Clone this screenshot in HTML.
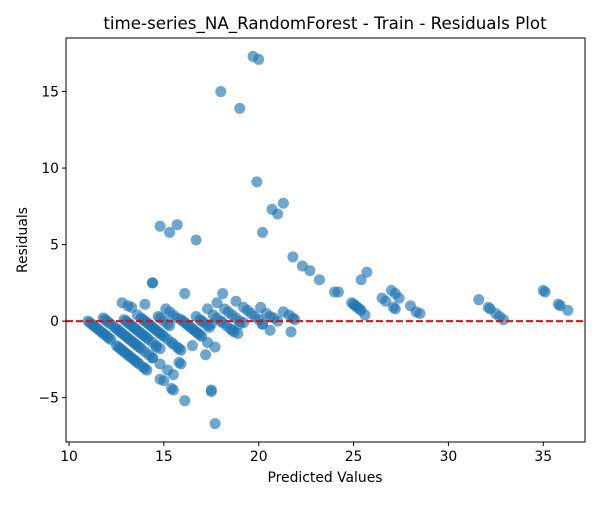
<!DOCTYPE html>
<html><head><meta charset="utf-8"><style>
body{margin:0;background:#fff;}
svg text{font-family:"DejaVu Sans","Liberation Sans",sans-serif;fill:#000;}
</style></head><body>
<svg id="chart" width="600" height="500" xmlns="http://www.w3.org/2000/svg">
<rect width="600" height="500" fill="#fff"/>
<text x="325" y="29" font-size="16.7" text-anchor="middle">time-series_NA_RandomForest - Train - Residuals Plot</text>
<g id="points"></g>
<line id="zero" stroke="#ff0000" stroke-width="2" stroke-dasharray="7,3"/>
<rect x="66" y="38" width="519" height="404" fill="none" stroke="#000" stroke-width="1"/>
<g id="xt"></g>
<g id="yt"></g>
<text x="325" y="482" font-size="13.9" text-anchor="middle">Predicted Values</text>
<text transform="translate(27,240) rotate(-90)" font-size="13.9" text-anchor="middle">Residuals</text>
</svg>
<script>
const xTicks=[10,15,20,25,30,35];
const yTicks=[-5,0,5,10,15];
const predicted=[11.0,11.1,11.2,11.3,11.4,11.5,11.6,11.7,11.8,11.9,12.0,12.1,12.2,
12.5,12.6,12.7,12.8,12.9,13.0,13.1,13.2,13.3,13.4,13.5,13.6,13.7,13.9,14.0,14.1,
11.8,11.9,12.0,12.1,12.2,12.4,12.5,12.6,12.7,12.8,12.9,13.0,13.1,13.2,13.3,13.4,13.5,13.6,13.7,13.8,14.0,14.2,14.4,
12.9,13.0,13.1,13.2,13.3,13.4,13.5,13.6,13.7,13.8,13.9,14.0,14.1,14.2,14.4,14.6,14.8,
13.6,13.8,13.9,14.0,14.1,14.2,14.3,14.4,14.5,14.6,14.7,14.8,14.9,15.0,15.2,15.4,15.5,15.7,15.8,15.9,
14.7,14.8,15.0,15.2,15.3,15.1,15.3,15.5,15.7,15.9,16.0,16.1,16.2,16.3,16.4,16.5,16.6,16.7,16.8,16.9,17.0,
16.7,16.9,17.0,17.1,17.3,17.5,
17.3,17.6,17.8,18.0,18.1,18.3,18.5,18.6,
18.2,18.4,18.6,18.8,19.0,19.2,
18.8,19.2,19.4,19.6,19.8,20.0,20.2,
20.1,20.4,20.6,20.8,21.0,
21.3,21.6,21.8,21.9,
12.8,13.1,13.3,14.0,16.1,17.8,18.1,
14.4,14.4,14.8,15.3,15.7,16.7,18.0,19.0,19.7,20.0,19.9,20.7,21.0,21.3,20.2,21.8,22.3,22.7,23.2,24.0,24.2,25.4,25.7,
24.9,25.0,25.1,25.2,25.3,25.4,25.6,26.5,26.7,27.0,27.2,27.4,27.1,27.2,28.0,28.3,28.5,31.6,32.1,32.2,32.5,32.7,32.9,35.0,35.1,35.8,35.9,36.3,
14.4,14.8,14.8,15.0,15.2,15.5,15.4,15.5,15.8,15.9,16.1,16.5,17.2,17.5,17.5,17.7,17.7,14.6,21.7,20.6,19.0,18.9,18.7,17.3,17.4,20.2];
const residuals=[0.0,-0.1,-0.2,-0.3,-0.4,-0.5,-0.6,-0.7,-0.8,-0.9,-1.0,-1.1,-1.2,
-1.6,-1.7,-1.8,-1.9,-2.0,-2.1,-2.2,-2.3,-2.4,-2.5,-2.6,-2.7,-2.8,-3.0,-3.1,-3.2,
0.2,0.1,0.0,-0.1,-0.2,-0.4,-0.5,-0.6,-0.7,-0.8,-0.9,-1.0,-1.1,-1.2,-1.3,-1.4,-1.5,-1.6,-1.7,-1.8,-2.0,-2.2,-2.4,
0.1,0.0,-0.1,-0.2,-0.3,-0.4,-0.5,-0.6,-0.7,-0.8,-0.9,-1.0,-1.1,-1.2,-1.4,-1.6,-1.8,
0.4,0.2,0.1,0.0,-0.1,-0.2,-0.3,-0.4,-0.5,-0.6,-0.7,-0.8,-0.9,-1.0,-1.2,-1.4,-1.5,-1.7,-1.8,-1.9,
0.3,0.2,0.0,-0.2,-0.3,0.8,0.6,0.4,0.2,0.1,0.0,-0.1,-0.2,-0.3,-0.4,-0.5,-0.6,-0.7,-0.8,-0.9,-1.0,
0.3,0.1,0.0,-0.1,-0.3,-0.2,
0.8,0.4,0.2,0.0,-0.1,-0.3,-0.5,-0.6,
0.8,0.6,0.4,0.2,0.0,-0.1,
1.3,0.9,0.7,0.5,0.3,0.1,-0.2,
0.9,0.5,0.3,0.2,0.0,
0.6,0.4,0.2,0.1,
1.2,1.0,0.9,1.1,1.8,1.2,1.8,
2.5,2.5,6.2,5.8,6.3,5.3,15.0,13.9,17.3,17.1,9.1,7.3,7.0,7.7,5.8,4.2,3.6,3.3,2.7,1.9,1.9,2.7,3.2,
1.2,1.1,1.0,0.9,0.8,0.7,0.4,1.5,1.3,2.0,1.8,1.5,0.9,0.8,1.0,0.6,0.5,1.4,0.9,0.8,0.5,0.3,0.1,2.0,1.9,1.1,1.0,0.7,
-2.4,-2.8,-3.8,-3.9,-3.2,-3.5,-4.4,-4.5,-2.7,-2.8,-5.2,-1.6,-2.2,-4.5,-4.6,-1.7,-6.7,-1.7,-0.7,-0.6,-0.2,-0.8,-0.7,-1.4,-0.4,-0.2];
const NS="http://www.w3.org/2000/svg";
const xMin=9.84,xMax=37.2,yMin=-7.9,yMax=18.5,L=66,R=585,T=38,B=442;
const sx=v=>L+(v-xMin)/(xMax-xMin)*(R-L);
const sy=v=>B-(v-yMin)/(yMax-yMin)*(B-T);
const pg=document.getElementById('points');
for(let i=0;i<predicted.length;i++){
 const c=document.createElementNS(NS,'circle');
 c.setAttribute('cx',sx(predicted[i]));c.setAttribute('cy',sy(residuals[i]));
 c.setAttribute('r',5.5);c.setAttribute('fill','#1f77b4');c.setAttribute('fill-opacity','0.65');
 
 
 pg.appendChild(c);
}
const z=document.getElementById('zero');
z.setAttribute('x1',L);z.setAttribute('x2',R);z.setAttribute('y1',sy(0));z.setAttribute('y2',sy(0));
const xt=document.getElementById('xt');
xTicks.forEach(v=>{
 const x=sx(v);
 const l=document.createElementNS(NS,'line');
 l.setAttribute('x1',x);l.setAttribute('x2',x);l.setAttribute('y1',B);l.setAttribute('y2',B+4);l.setAttribute('stroke','#000');
 
 
 xt.appendChild(l);
 const t=document.createElementNS(NS,'text');
 t.setAttribute('x',x);t.setAttribute('y',B+19);t.setAttribute('font-size','13.9');t.setAttribute('text-anchor','middle');
 t.textContent=v;
 
 
 xt.appendChild(t);
});
const yt=document.getElementById('yt');
yTicks.forEach(v=>{
 const y=sy(v);
 const l=document.createElementNS(NS,'line');
 l.setAttribute('x1',L-4);l.setAttribute('x2',L);l.setAttribute('y1',y);l.setAttribute('y2',y);l.setAttribute('stroke','#000');
 
 
 yt.appendChild(l);
 const t=document.createElementNS(NS,'text');
 t.setAttribute('x',L-7);t.setAttribute('y',y+5);t.setAttribute('font-size','13.9');t.setAttribute('text-anchor','end');
 t.textContent=v<0?'\u2212'+Math.abs(v):v;
 
 
 yt.appendChild(t);
});
</script>
</body></html>
